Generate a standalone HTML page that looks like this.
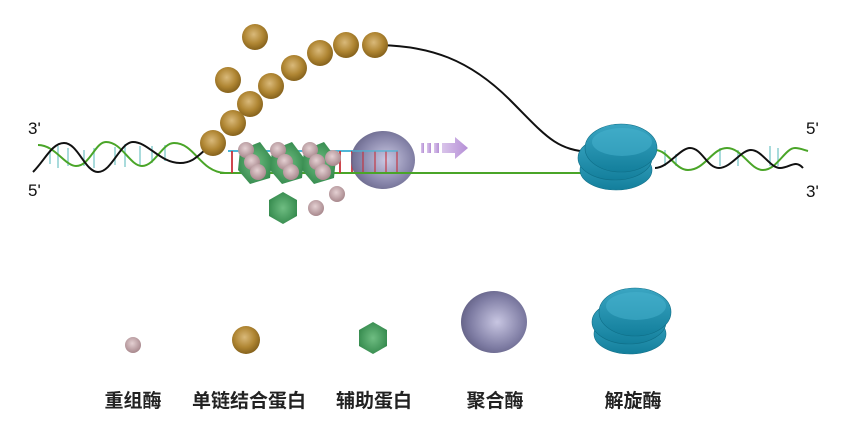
<!DOCTYPE html>
<html><head><meta charset="utf-8"><style>
html,body{margin:0;padding:0;background:#fff;width:848px;height:437px;overflow:hidden}
.l{font-family:"Liberation Sans","Noto Sans CJK SC",sans-serif;font-weight:bold;font-size:19px;fill:#222}
</style></head><body>
<svg width="848" height="437" viewBox="0 0 848 437" xmlns="http://www.w3.org/2000/svg">
<defs>
<radialGradient id="gold" cx="45%" cy="40%" r="60%"><stop offset="0" stop-color="#d9b97a"/><stop offset="0.6" stop-color="#b08633"/><stop offset="1" stop-color="#86621c"/></radialGradient>
<radialGradient id="pink" cx="45%" cy="40%" r="60%"><stop offset="0" stop-color="#e4d0d2"/><stop offset="1" stop-color="#a8888d"/></radialGradient>
<radialGradient id="pol" cx="55%" cy="50%" r="60%"><stop offset="0" stop-color="#c8c6e2"/><stop offset="0.7" stop-color="#7d7ba2"/><stop offset="1" stop-color="#5e5c80"/></radialGradient>
<radialGradient id="grn" cx="50%" cy="50%" r="60%"><stop offset="0" stop-color="#6fbd82"/><stop offset="1" stop-color="#2f8548"/></radialGradient>
<linearGradient id="hel" x1="0" y1="0" x2="0" y2="1"><stop offset="0" stop-color="#3aa5c2"/><stop offset="1" stop-color="#137f9c"/></linearGradient>
<linearGradient id="arr" x1="0" x2="1"><stop offset="0" stop-color="#d9c4ea"/><stop offset="1" stop-color="#b58fd6"/></linearGradient>
<g id="helicase">
<ellipse cx="-2" cy="14" rx="36" ry="20" fill="url(#hel)" stroke="#0f6f88" stroke-width="0.6"/>
<ellipse cx="-3" cy="2" rx="37" ry="22" fill="url(#hel)" stroke="#0f6f88" stroke-width="0.6"/>
<ellipse cx="3" cy="-8" rx="36" ry="24" fill="url(#hel)" stroke="#0f6f88" stroke-width="0.6"/>
<ellipse cx="4" cy="-14" rx="30" ry="14" fill="#47b3cf" opacity="0.5"/>
</g>
</defs>

<g stroke="#8ccfd0" stroke-width="1.5">
<line x1="50" y1="150" x2="50" y2="164"/><line x1="58" y1="146" x2="58" y2="168"/><line x1="68" y1="148" x2="68" y2="166"/>
<line x1="84" y1="150" x2="84" y2="166"/><line x1="94" y1="148" x2="94" y2="168"/>
<line x1="115" y1="147" x2="115" y2="165"/><line x1="125" y1="144" x2="125" y2="167"/>
<line x1="140" y1="146" x2="140" y2="165"/><line x1="152" y1="146" x2="152" y2="163"/><line x1="165" y1="145" x2="165" y2="161"/>
</g>
<path d="M38,145 C55,145 65,166 76,166 C90,166 95,142 106,142 C122,142 130,166 142,166 C155,166 162,143 174,143 C195,143 200,172 225,173" fill="none" stroke="#4aa528" stroke-width="2"/>
<path d="M33,172 C45,160 52,143 64,143 C78,143 85,172 98,172 C112,172 120,142 133,142 C148,142 160,163 180,163 C192,163 198,156 205,150" fill="none" stroke="#111" stroke-width="2"/>
<line x1="220" y1="173" x2="590" y2="173" stroke="#4aa528" stroke-width="2"/>
<line x1="228" y1="151" x2="398" y2="151" stroke="#4fb6d6" stroke-width="2"/>
<g stroke="#c9323a" stroke-width="1.8">
<line x1="232" y1="151" x2="232" y2="173"/><line x1="262" y1="151" x2="262" y2="173"/><line x1="290" y1="151" x2="290" y2="173"/>
<line x1="340" y1="151" x2="340" y2="173"/><line x1="352" y1="151" x2="352" y2="173"/><line x1="363" y1="151" x2="363" y2="173"/>
<line x1="375" y1="151" x2="375" y2="173"/><line x1="386" y1="151" x2="386" y2="173"/><line x1="397" y1="151" x2="397" y2="173"/>
</g>
<path d="M375,45 C430,45 470,60 510,100 C545,135 555,150 590,152" fill="none" stroke="#111" stroke-width="2"/>

<g>
<polygon points="240,150 260,142 272,158 270,178 250,184 238,170" fill="url(#grn)"/>
<polygon points="272,150 292,142 304,158 302,178 282,184 270,170" fill="url(#grn)"/>
<polygon points="304,150 324,142 336,158 334,178 314,184 302,170" fill="url(#grn)"/>
<g fill="url(#pink)">
<circle cx="246" cy="150" r="8"/><circle cx="252" cy="162" r="8"/><circle cx="258" cy="172" r="8"/>
<circle cx="278" cy="150" r="8"/><circle cx="285" cy="162" r="8"/><circle cx="291" cy="172" r="8"/>
<circle cx="310" cy="150" r="8"/><circle cx="317" cy="162" r="8"/><circle cx="323" cy="172" r="8"/>
<circle cx="333" cy="158" r="8"/>
<circle cx="337" cy="194" r="8"/><circle cx="316" cy="208" r="8"/>
</g>
</g>
<polygon points="283,192 297,200 297,216 283,224 269,216 269,200" fill="url(#grn)"/>

<ellipse cx="383" cy="160" rx="32" ry="29" fill="url(#pol)" opacity="0.95"/>
<g stroke="#c9323a" stroke-width="1.5" opacity="0.7"><line x1="363" y1="151" x2="363" y2="173"/><line x1="375" y1="151" x2="375" y2="173"/><line x1="386" y1="151" x2="386" y2="173"/><line x1="397" y1="151" x2="397" y2="173"/></g>
<line x1="352" y1="151" x2="398" y2="151" stroke="#4fb6d6" stroke-width="1.5" opacity="0.8"/>
<line x1="351" y1="173" x2="415" y2="173" stroke="#4aa528" stroke-width="2"/>
<g fill="url(#arr)">
<rect x="421" y="143" width="3" height="10"/><rect x="427" y="143" width="4" height="10"/><rect x="434" y="143" width="5" height="10"/>
<polygon points="442,143 455,143 455,137 468,148 455,159 455,153 442,153"/>
</g>

<g fill="url(#gold)">
<circle cx="255" cy="37" r="13"/><circle cx="228" cy="80" r="13"/><circle cx="250" cy="104" r="13"/>
<circle cx="271" cy="86" r="13"/><circle cx="294" cy="68" r="13"/><circle cx="320" cy="53" r="13"/>
<circle cx="346" cy="45" r="13"/><circle cx="375" cy="45" r="13"/><circle cx="233" cy="123" r="13"/><circle cx="213" cy="143" r="13"/>
</g>

<g stroke="#8ccfd0" stroke-width="1.5">
<line x1="665" y1="150" x2="665" y2="166"/><line x1="676" y1="154" x2="676" y2="166"/>
<line x1="720" y1="148" x2="720" y2="166"/><line x1="738" y1="150" x2="738" y2="166"/>
<line x1="770" y1="146" x2="770" y2="166"/><line x1="778" y1="148" x2="778" y2="166"/>
</g>
<path d="M655,150 C668,150 675,170 688,170 C705,170 712,148 727,148 C742,148 750,170 763,170 C777,170 785,148 795,148 C800,148 804,150 808,151" fill="none" stroke="#4aa528" stroke-width="2"/>
<path d="M655,168 C668,168 680,148 690,148 C702,148 707,168 719,168 C731,168 741,150 751,150 C762,150 770,168 780,168 C790,168 795,159 803,168" fill="none" stroke="#111" stroke-width="2"/>
<use href="#helicase" x="618" y="156"/>

<g font-family="Liberation Sans, sans-serif" font-size="17" fill="#111">
<text x="28" y="134">3'</text><text x="28" y="196">5'</text>
<text x="806" y="134">5'</text><text x="806" y="197">3'</text>
</g>

<circle cx="133" cy="345" r="8" fill="url(#pink)"/>
<circle cx="246" cy="340" r="14" fill="url(#gold)"/>
<polygon points="373,322 387,330 387,346 373,354 359,346 359,330" fill="url(#grn)"/>
<ellipse cx="494" cy="322" rx="33" ry="31" fill="url(#pol)"/>
<use href="#helicase" x="632" y="320"/>
<g class="l" text-anchor="middle">
<text x="133" y="407">重组酶</text>
<text x="249" y="407">单链结合蛋白</text>
<text x="374" y="407">辅助蛋白</text>
<text x="495" y="407">聚合酶</text>
<text x="633" y="407">解旋酶</text>
</g>
</svg>
</body></html>
